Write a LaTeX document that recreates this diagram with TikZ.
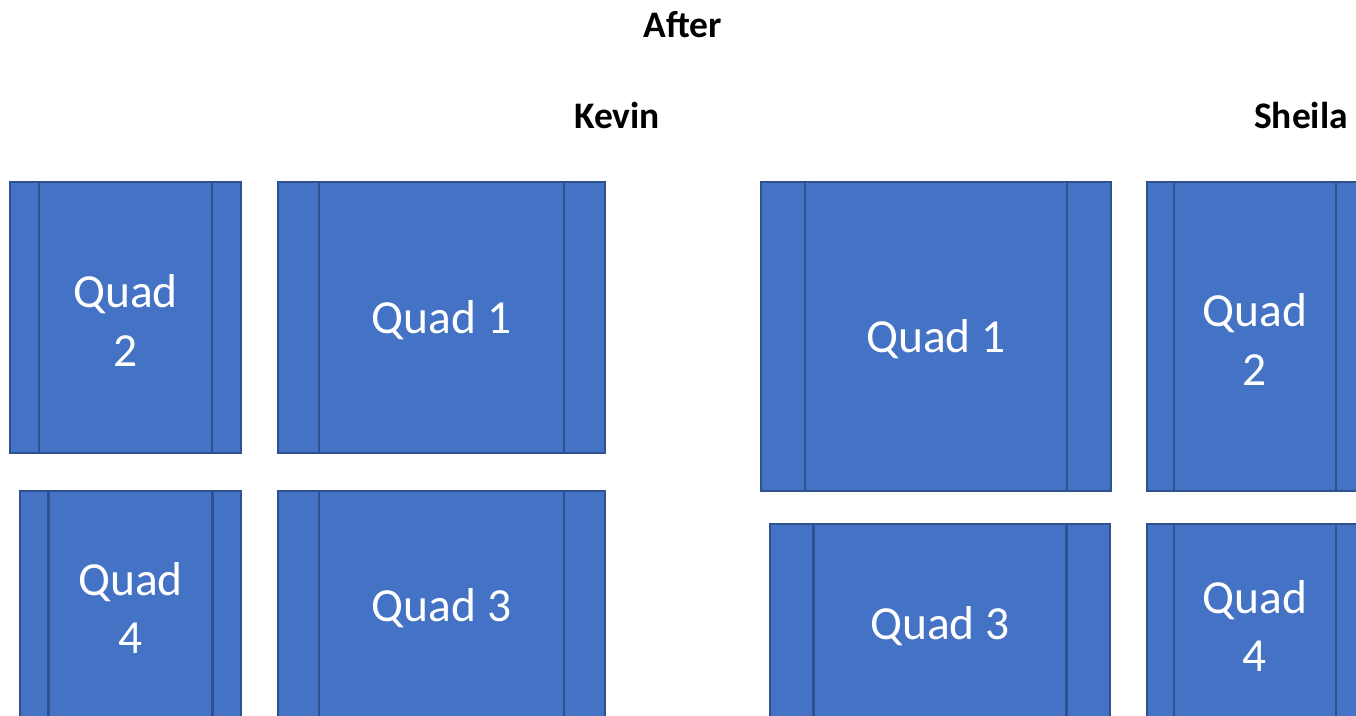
\documentclass[tikz,border=0pt]{standalone}
\usepackage{fontspec}
\setmainfont{Carlito}
\definecolor{boxfill}{HTML}{4472C4}
\definecolor{boxline}{HTML}{2F528F}
\tikzset{
  procbox/.style={draw=boxline, fill=boxfill, line width=2.2pt, rectangle,
    inner sep=0pt, outer sep=0pt,
    path picture={
      \draw[boxline, line width=2.2pt]
        ([xshift=#1]path picture bounding box.north west) --
        ([xshift=#1]path picture bounding box.south west);
      \draw[boxline, line width=2.2pt]
        ([xshift=-#1]path picture bounding box.north east) --
        ([xshift=-#1]path picture bounding box.south east);
    }},
  qtext/.style={text=white, align=center, inner sep=0pt, yshift=-3pt,
    font=\fontsize{47.5}{58.6}\selectfont},
  heading/.style={font=\fontsize{37.5}{44}\selectfont\bfseries, inner sep=0pt}
}
\begin{document}
\begin{tikzpicture}[x=1pt, y=-1pt]
\useasboundingbox (0,0) rectangle (1356,715);
\clip (0,0) rectangle (1356,715);
\node[heading, anchor=base] (after) at (683,37) {After};
\node[heading, anchor=base east] (kevin) at (660,128) {Kevin};
\node[heading, anchor=base east] (sheila) at (1348,128) {Sheila};
% Kevin
\node[procbox=29pt, minimum width=231pt, minimum height=271pt,
  label={[qtext]center:Quad\\2}] (kq2) at (125.5,317.5) {};
\node[procbox=41pt, minimum width=327pt, minimum height=271pt,
  label={[qtext]center:Quad 1}] (kq1) at (441.5,317.5) {};
\node[procbox=28.5pt, minimum width=221pt, minimum height=228pt,
  label={[qtext]center:Quad\\4}] (kq4) at (130.5,605) {};
\node[procbox=41pt, minimum width=327pt, minimum height=228pt,
  label={[qtext]center:Quad 3}] (kq3) at (441.5,605) {};
% Sheila
\node[procbox=44pt, minimum width=350pt, minimum height=309pt,
  label={[qtext]center:Quad 1}] (sq1) at (936,336.5) {};
\node[procbox=27pt, minimum width=216pt, minimum height=309pt,
  label={[qtext]center:Quad\\2}] (sq2) at (1255,336.5) {};
\node[procbox=43.5pt, minimum width=340pt, minimum height=198pt,
  label={[qtext]center:Quad 3}] (sq3) at (940,623) {};
\node[procbox=27pt, minimum width=216pt, minimum height=198pt,
  label={[qtext]center:Quad\\4}] (sq4) at (1255,623) {};
\end{tikzpicture}
\end{document}
